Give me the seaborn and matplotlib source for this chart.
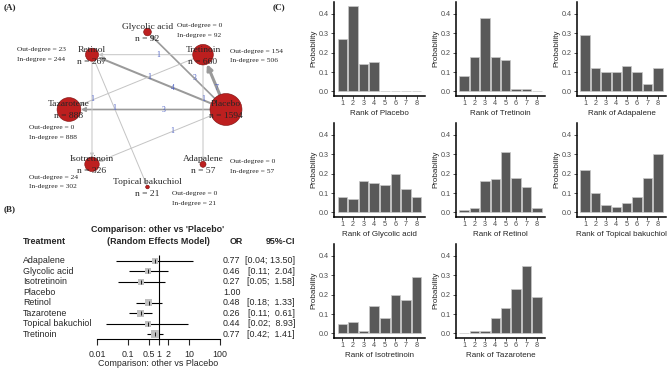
import numpy as np
import pandas as pd
import matplotlib
matplotlib.use("Agg")
import matplotlib.pyplot as plt
import seaborn as sns

sns.set_style("white")
plt.rcParams["font.family"] = ["Liberation Sans", "DejaVu Sans"]

W, H = 669, 371

# ---- (A) network data ----
net_nodes = ["Glycolic acid", "Tretinoin", "Placebo", "Adapalene",
             "Topical bakuchiol", "Isotretinoin", "Tazarotene", "Retinol"]
net_n = [92, 660, 1594, 57, 21, 326, 888, 267]
out_degree = {"Glycolic acid": 0, "Tretinoin": 154, "Adapalene": 0, "Topical bakuchiol": 0,
              "Isotretinoin": 24, "Tazarotene": 0, "Retinol": 23}
in_degree = {"Glycolic acid": 92, "Tretinoin": 506, "Adapalene": 57, "Topical bakuchiol": 21,
             "Isotretinoin": 302, "Tazarotene": 888, "Retinol": 244}
edge_src = ["Placebo", "Placebo", "Placebo", "Placebo", "Placebo",
            "Tretinoin", "Tretinoin", "Tretinoin", "Retinol", "Retinol"]
edge_dst = ["Glycolic acid", "Retinol", "Tretinoin", "Tazarotene", "Isotretinoin",
            "Retinol", "Tazarotene", "Adapalene", "Isotretinoin", "Topical bakuchiol"]
edge_studies = [3, 4, 7, 3, 1, 1, 1, 1, 1, 1]

# ---- (B) forest data ----
forest_trt = ["Adapalene", "Glycolic acid", "Isotretinoin", "Placebo", "Retinol",
              "Tazarotene", "Topical bakuchiol", "Tretinoin"]
forest_or = [0.77, 0.46, 0.27, 1.00, 0.48, 0.26, 0.44, 0.77]
forest_lo = [0.04, 0.11, 0.05, np.nan, 0.18, 0.11, 0.02, 0.42]
forest_hi = [13.50, 2.04, 1.58, np.nan, 1.33, 0.61, 8.93, 1.41]
forest_ticks = [0.01, 0.1, 0.5, 1, 2, 10, 100]

# ---- (C) rank probabilities ----
ranks = [1, 2, 3, 4, 5, 6, 7, 8]
p_placebo = [0.27, 0.44, 0.14, 0.15, 0.0, 0.0, 0.0, 0.0]
p_tretinoin = [0.08, 0.18, 0.38, 0.18, 0.16, 0.01, 0.01, 0.0]
p_adapalene = [0.29, 0.12, 0.10, 0.10, 0.13, 0.10, 0.04, 0.12]
p_glycolic = [0.08, 0.07, 0.16, 0.15, 0.14, 0.20, 0.12, 0.08]
p_retinol = [0.01, 0.02, 0.16, 0.17, 0.31, 0.18, 0.13, 0.02]
p_bakuchiol = [0.22, 0.10, 0.04, 0.03, 0.05, 0.08, 0.18, 0.30]
p_isotretinoin = [0.05, 0.06, 0.01, 0.14, 0.08, 0.20, 0.17, 0.29]
p_tazarotene = [0.0, 0.01, 0.01, 0.08, 0.13, 0.23, 0.35, 0.19]
rank_panels = [("Placebo", p_placebo), ("Tretinoin", p_tretinoin), ("Adapalene", p_adapalene),
               ("Glycolic acid", p_glycolic), ("Retinol", p_retinol),
               ("Topical bakuchiol", p_bakuchiol),
               ("Isotretinoin", p_isotretinoin), ("Tazarotene", p_tazarotene)]

fig = plt.figure(figsize=(W / 100, H / 100), dpi=100)


def px_axes(x0, y0, x1, y1):
    return fig.add_axes([x0 / W, 1 - y1 / H, (x1 - x0) / W, (y1 - y0) / H])


# overlay in pixel coordinates for panel A and free text
ov = fig.add_axes([0, 0, 1, 1])
ov.set_xlim(0, W)
ov.set_ylim(H, 0)
ov.axis("off")

serif = ["Liberation Serif", "DejaVu Serif"]
ov.text(4, 7, "(A)", family=serif, fontweight="bold", fontsize=6.5, va="center")
ov.text(4, 209, "(B)", family=serif, fontweight="bold", fontsize=6.5, va="center")
ov.text(273, 7, "(C)", family=serif, fontweight="bold", fontsize=6.5, va="center")

# circular layout of the network
cx, cy, rx, ry = 147.5, 109.5, 78.5, 77.5
ang = np.deg2rad(90 - 45 * np.arange(len(net_nodes)))
pos = {t: (cx + rx * np.cos(a), cy - ry * np.sin(a)) for t, a in zip(net_nodes, ang)}
rad = {t: 0.4 * np.sqrt(n) for t, n in zip(net_nodes, net_n)}  # radius in px

for s, d, k in zip(edge_src, edge_dst, edge_studies):
    lw = 0.45 + 0.25 * k
    col = "#9a9a9a" if k > 1 else "#c4c4c4"
    ov.annotate("", xy=pos[d], xytext=pos[s],
                arrowprops=dict(arrowstyle="-|>", lw=lw, color=col,
                                shrinkA=rad[s] * 0.72, shrinkB=rad[d] * 0.72,
                                mutation_scale=5 + 0.4 * k))
    lx = pos[s][0] + 0.4 * (pos[d][0] - pos[s][0])
    ly = pos[s][1] + 0.4 * (pos[d][1] - pos[s][1])
    ov.text(lx, ly, str(k), family=serif, fontsize=5.5, color="#4b5fc4",
            ha="center", va="center")

node_df = pd.DataFrame({"x": [pos[t][0] for t in net_nodes],
                        "y": [pos[t][1] for t in net_nodes], "n": net_n})
sns.scatterplot(data=node_df, x="x", y="y", size="n",
                sizes=(0.3318 * min(net_n), 0.3318 * max(net_n)),
                color="#bd1f1f", edgecolor="#7a0c0c", linewidth=0.4,
                legend=False, ax=ov, zorder=3)
ov.set_xlim(0, W)
ov.set_ylim(H, 0)
ov.axis("off")

for t, n in zip(net_nodes, net_n):
    x, y = pos[t]
    ov.text(x, y - 5, t, family=serif, fontsize=6.8, ha="center", va="center", zorder=4)
    ov.text(x, y + 7, f"n = {n}", family=serif, fontsize=6.8, ha="center", va="center", zorder=4)

deg_pos = {"Glycolic acid": (177, 26), "Retinol": (17, 50), "Tretinoin": (230, 51),
           "Tazarotene": (29, 128), "Isotretinoin": (29, 177), "Adapalene": (230, 162),
           "Topical bakuchiol": (172, 194)}
for t, (x, y) in deg_pos.items():
    ov.text(x, y, f"Out-degree = {out_degree[t]}", family=serif, fontsize=5.4, va="center")
    ov.text(x, y + 9.5, f"In-degree = {in_degree[t]}", family=serif, fontsize=5.4, va="center")

# ---- (B) forest plot ----
fs = 6.4
axf = px_axes(97, 250, 220, 339)
rows = np.arange(len(forest_trt))
lo = np.array(forest_lo)
hi = np.array(forest_hi)
est = np.array(forest_or)
ok = ~np.isnan(lo)
axf.vlines(1, -0.55, 7.46, color="black", lw=0.8)
axf.hlines(rows[ok], lo[ok], hi[ok], color="black", lw=0.8)
se = (np.log(hi[ok]) - np.log(lo[ok])) / 3.92
side = 5.5 + 2.5 * (1 / se) / (1 / se).max()
sq_df = pd.DataFrame({"or": est[ok], "row": rows[ok]})
sns.scatterplot(data=sq_df, x="or", y="row", marker="s", s=(side * 0.72) ** 2,
                color="#c0c0c0", edgecolor="none", ax=axf, zorder=3)
axf.scatter(est[ok], rows[ok], marker="|", s=6, color="black", lw=0.6, zorder=4)
axf.set_xscale("log")
axf.set_xlim(0.01, 100)
axf.set_ylim(7.46, -1.02)
axf.set_xticks(forest_ticks)
axf.set_xticklabels(["0.01", "0.1", "0.5", "1", "2", "10", "100"])
axf.minorticks_off()
axf.set_yticks([])
axf.set_ylabel("")
axf.set_xlabel("Comparison: other vs Placebo", fontsize=fs, labelpad=0)
axf.tick_params(axis="x", direction="out", length=4, width=0.8, pad=4, labelsize=fs,
                bottom=True)
for sp in ["left", "top", "right"]:
    axf.spines[sp].set_visible(False)
axf.spines["bottom"].set_color("black")
axf.spines["bottom"].set_linewidth(0.8)
axf.patch.set_alpha(0)

ov.text(158, 229, "Comparison: other vs 'Placebo'", fontsize=fs, fontweight="bold",
        ha="center", va="center")
ov.text(158, 241, "(Random Effects Model)", fontsize=fs, fontweight="bold",
        ha="center", va="center")
ov.text(23, 241, "Treatment", fontsize=fs, fontweight="bold", va="center")
ov.text(236, 241, "OR", fontsize=fs, fontweight="bold", ha="center", va="center")
ov.text(295, 241, "95%-CI", fontsize=fs, fontweight="bold", ha="right", va="center")
for i, t in enumerate(forest_trt):
    y = 260.7 + 10.5 * i
    ov.text(23, y, t, fontsize=fs, va="center")
    ov.text(223, y, f"{forest_or[i]:.2f}", fontsize=fs, va="center")
    if not np.isnan(forest_lo[i]):
        gap = ";  " if forest_hi[i] < 10 else "; "
        ov.text(295, y, f"[{forest_lo[i]:.2f}{gap}{forest_hi[i]:.2f}]",
                fontsize=fs, ha="right", va="center")

# ---- (C) rank probabilities ----
col_x = [(334, 425), (456, 545), (577, 666)]
row_y = [(2, 95.6), (123, 216.6), (244, 337.6)]
for i, (name, probs) in enumerate(rank_panels):
    r, c = divmod(i, 3)
    ax = px_axes(col_x[c][0], row_y[r][0], col_x[c][1], row_y[r][1])
    sns.barplot(x=ranks, y=probs, color="#595959", edgecolor="#c8c8c8", linewidth=0.5,
                width=0.9, saturation=1, ax=ax)
    ax.set_xlim(-0.78, 7.78)
    ax.set_ylim(-0.022, 0.462)
    ax.set_yticks([0.0, 0.1, 0.2, 0.3, 0.4])
    ax.set_yticklabels(["0.0", "0.1", "0.2", "0.3", "0.4"])
    ax.set_xlabel(f"Rank of {name}", fontsize=5.8, labelpad=1.5)
    ax.set_ylabel("Probability", fontsize=5.8, labelpad=1.5)
    ax.tick_params(axis="both", labelsize=5.2, labelcolor="#4d4d4d", length=2,
                   width=0.6, pad=1.5, left=True, bottom=True, color="#333333")
    for sp in ["top", "right"]:
        ax.spines[sp].set_visible(False)
    for sp in ["left", "bottom"]:
        ax.spines[sp].set_color("black")
        ax.spines[sp].set_linewidth(1.1)
    ax.patch.set_alpha(0)

fig.savefig("out.png", dpi=100)
